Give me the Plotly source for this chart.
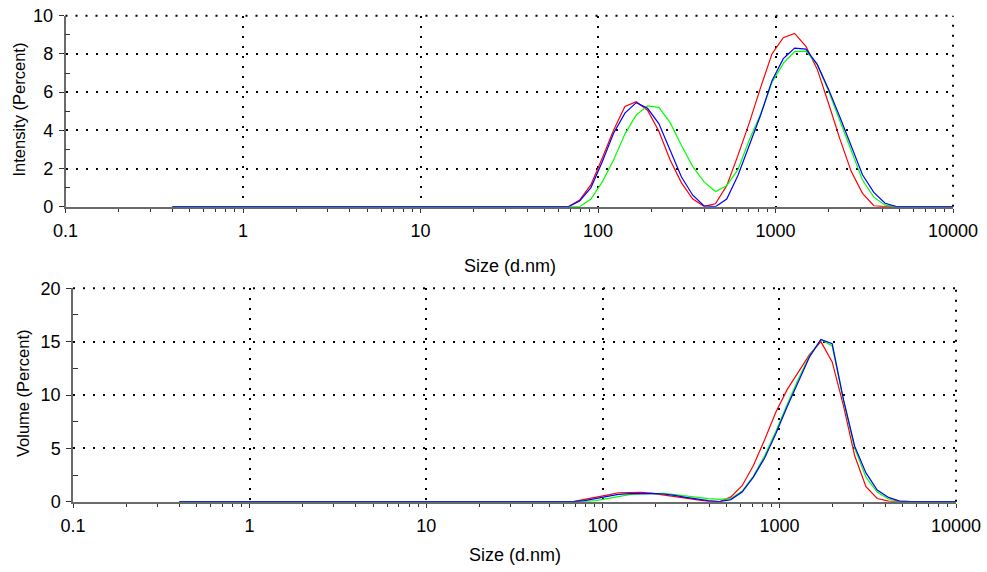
import plotly.graph_objects as go

# Size classes (d.nm) of the DLS size distribution
SIZE_NM = [
    0.4, 0.4632, 0.5365, 0.6213, 0.7195, 0.8332, 0.9649, 1.117, 1.294, 1.499,
    1.736, 2.010, 2.328, 2.696, 3.122, 3.615, 4.187, 4.849, 5.615, 6.503,
    7.531, 8.721, 10.10, 11.70, 13.54, 15.69, 18.17, 21.04, 24.36, 28.21,
    32.67, 37.84, 43.82, 50.75, 58.77, 68.06, 78.82, 91.28, 105.7, 122.4,
    141.8, 164.2, 190.1, 220.2, 255.0, 295.3, 342.0, 396.1, 458.7, 531.2,
    615.1, 712.4, 825.0, 955.4, 1106, 1281, 1484, 1718, 1990, 2305,
    2669, 3091, 3580, 4145, 4801, 5560, 6439, 7456, 8635, 10000,
]

# Intensity distribution (%), one list per measurement
INTENSITY_RED = [
    0, 0, 0, 0, 0, 0, 0, 0, 0, 0,
    0, 0, 0, 0, 0, 0, 0, 0, 0, 0,
    0, 0, 0, 0, 0, 0, 0, 0, 0, 0,
    0, 0, 0, 0, 0, 0.0, 0.35, 1.15, 2.55, 4.0,
    5.25, 5.5, 5.05, 3.95, 2.45, 1.25, 0.4, 0.02, 0.15, 1.1,
    2.7, 4.4, 6.25, 8.0, 8.85, 9.07, 8.4, 7.2, 5.4, 3.55,
    1.85, 0.7, 0.05, 0, 0, 0, 0, 0, 0, 0,
]
INTENSITY_GREEN = [
    0, 0, 0, 0, 0, 0, 0, 0, 0, 0,
    0, 0, 0, 0, 0, 0, 0, 0, 0, 0,
    0, 0, 0, 0, 0, 0, 0, 0, 0, 0,
    0, 0, 0, 0, 0, 0.0, 0.0, 0.4, 1.3, 2.45,
    3.8, 4.8, 5.28, 5.2, 4.4, 3.2, 2.1, 1.3, 0.8, 1.1,
    1.95, 3.5, 4.85, 6.5, 7.5, 8.12, 8.15, 7.45, 6.05, 4.5,
    2.9, 1.4, 0.5, 0.08, 0, 0, 0, 0, 0, 0,
]
INTENSITY_BLUE = [
    0, 0, 0, 0, 0, 0, 0, 0, 0, 0,
    0, 0, 0, 0, 0, 0, 0, 0, 0, 0,
    0, 0, 0, 0, 0, 0, 0, 0, 0, 0,
    0, 0, 0, 0, 0, 0.0, 0.3, 1.0, 2.35, 3.85,
    4.9, 5.45, 5.15, 4.35, 2.95, 1.55, 0.6, 0.04, 0.0, 0.4,
    1.65, 3.25, 4.8, 6.6, 7.75, 8.3, 8.25, 7.45, 6.15, 4.7,
    3.15, 1.67, 0.75, 0.18, 0.01, 0, 0, 0, 0, 0,
]

# Volume distribution (%), one list per measurement
VOLUME_RED = [
    0, 0, 0, 0, 0, 0, 0, 0, 0, 0,
    0, 0, 0, 0, 0, 0, 0, 0, 0, 0,
    0, 0, 0, 0, 0, 0, 0, 0, 0, 0,
    0, 0, 0, 0, 0, 0.0, 0.22, 0.4, 0.62, 0.84,
    0.87, 0.87, 0.78, 0.62, 0.47, 0.31, 0.16, 0.03, 0.0, 0.45,
    1.5, 3.4, 5.8, 8.4, 10.5, 12.2, 13.8, 15.0, 13.1, 9.0,
    4.3, 1.4, 0.3, 0.05, 0, 0, 0, 0, 0, 0,
]
VOLUME_GREEN = [
    0, 0, 0, 0, 0, 0, 0, 0, 0, 0,
    0, 0, 0, 0, 0, 0, 0, 0, 0, 0,
    0, 0, 0, 0, 0, 0, 0, 0, 0, 0,
    0, 0, 0, 0, 0, 0.0, 0.0, 0.1, 0.3, 0.53,
    0.66, 0.72, 0.78, 0.78, 0.66, 0.53, 0.37, 0.28, 0.22, 0.3,
    1.0, 2.4, 4.3, 6.6, 9.1, 11.5, 13.7, 15.2, 14.6, 9.5,
    5.0, 2.3, 0.9, 0.25, 0.02, 0, 0, 0, 0, 0,
]
VOLUME_BLUE = [
    0, 0, 0, 0, 0, 0, 0, 0, 0, 0,
    0, 0, 0, 0, 0, 0, 0, 0, 0, 0,
    0, 0, 0, 0, 0, 0, 0, 0, 0, 0,
    0, 0, 0, 0, 0, 0.0, 0.1, 0.3, 0.53, 0.69,
    0.75, 0.78, 0.78, 0.72, 0.6, 0.4, 0.22, 0.1, 0.0, 0.2,
    0.9, 2.3, 4.1, 6.4, 8.9, 11.3, 13.6, 15.2, 14.8, 9.6,
    5.2, 2.7, 1.1, 0.4, 0.05, 0, 0, 0, 0, 0,
]

X_TICKS = [0.1, 1, 10, 100, 1000, 10000]
X_TICK_TEXT = ["0.1", "1", "10", "100", "1000", "10000"]
X_MINOR = [m * d for d in (0.1, 1, 10, 100, 1000) for m in range(2, 10)]

FONT = "Liberation Sans, Arial, sans-serif"
AXIS_GRAY = "#6a6a6a"
TICK_COL = "#333333"
DOTS = "2px,8px"

fig = go.Figure()

series = [
    ("x", "y", INTENSITY_RED, "#ff0000"),
    ("x", "y", INTENSITY_GREEN, "#00ff00"),
    ("x", "y", INTENSITY_BLUE, "#0000ff"),
    ("x2", "y2", VOLUME_RED, "#ff0000"),
    ("x2", "y2", VOLUME_GREEN, "#00ff00"),
    ("x2", "y2", VOLUME_BLUE, "#0000ff"),
]
for xa, ya, vals, col in series:
    fig.add_trace(go.Scatter(
        x=SIZE_NM, y=vals, mode="lines", xaxis=xa, yaxis=ya,
        line=dict(color=col, width=1.2), showlegend=False, hoverinfo="skip",
        cliponaxis=False,
    ))


def size_axis(domain, anchor):
    return dict(
        type="log", range=[-1, 4], domain=domain, anchor=anchor,
        automargin=False, layer="below traces",
        tickmode="array", tickvals=X_TICKS, ticktext=X_TICK_TEXT,
        ticks="outside", ticklen=4, tickwidth=1, tickcolor=TICK_COL,
        ticklabelstandoff=3,
        showline=True, linecolor=AXIS_GRAY, linewidth=2,
        showgrid=True, gridcolor="black", gridwidth=2, griddash=DOTS,
        zeroline=False,
        minor=dict(tickmode="array", tickvals=X_MINOR, ticks="outside",
                   ticklen=3, tickwidth=1, tickcolor=TICK_COL, showgrid=False),
        tickfont=dict(family=FONT, size=18, color="black"),
    )


def inner_ticks(over, anchor):
    # second set of tick marks so the x ticks cross the axis line
    return dict(
        type="log", range=[-1, 4], overlaying=over, anchor=anchor,
        automargin=False, layer="below traces",
        tickmode="array", tickvals=X_TICKS, ticks="inside", ticklen=5,
        tickwidth=1, tickcolor=TICK_COL, showticklabels=False,
        showgrid=False, showline=False, zeroline=False,
        minor=dict(tickmode="array", tickvals=X_MINOR, ticks="inside",
                   ticklen=3, tickwidth=1, tickcolor=TICK_COL, showgrid=False),
    )


def value_axis(domain, anchor, rng, dtick, minor_vals):
    return dict(
        range=rng, domain=domain, anchor=anchor,
        automargin=False, layer="below traces",
        tickmode="linear", tick0=0, dtick=dtick,
        ticks="outside", ticklen=5, tickwidth=1, tickcolor=TICK_COL,
        ticklabelstandoff=2,
        showline=True, linecolor=AXIS_GRAY, linewidth=1.5,
        showgrid=True, gridcolor="black", gridwidth=2, griddash=DOTS,
        zeroline=False,
        minor=dict(tickmode="array", tickvals=minor_vals, ticks="inside",
                   ticklen=5, tickwidth=1, tickcolor=TICK_COL, showgrid=False),
        tickfont=dict(family=FONT, size=18, color="black"),
    )


W, H = 987, 572
top_x = [65.5 / W, 953 / W]
bot_x = [73 / W, 956 / W]
top_y = [(H - 206.7) / H, (H - 15.7) / H]
bot_y = [(H - 501.7) / H, (H - 288.3) / H]

fig.update_layout(
    width=W, height=H,
    margin=dict(l=0, r=0, t=0, b=0, autoexpand=False),
    paper_bgcolor="white", plot_bgcolor="white",
    font=dict(family=FONT, size=18, color="black"),
    xaxis=size_axis(top_x, "y"),
    yaxis=value_axis(top_y, "x", [0, 10], 2, [1, 3, 5, 7, 9]),
    xaxis2=size_axis(bot_x, "y2"),
    yaxis2=value_axis(bot_y, "x2", [0, 20], 5, [2.5, 7.5, 12.5, 17.5]),
    xaxis3=inner_ticks("x", "y"),
    xaxis4=inner_ticks("x2", "y2"),
)

# dotted grid lines along the top and right edges of each panel
for xr, yr in (("x", "y"), ("x2", "y2")):
    fig.add_shape(type="line", xref=f"{xr} domain", yref=f"{yr} domain",
                  x0=0, x1=1, y0=1, y1=1, layer="below",
                  line=dict(color="black", width=2, dash=DOTS))
    fig.add_shape(type="line", xref=f"{xr} domain", yref=f"{yr} domain",
                  x0=1, x1=1, y0=0, y1=1, layer="below",
                  line=dict(color="black", width=2, dash=DOTS))

titles = [
    ("Size (d.nm)", 510 / W, (H - 266) / H, 0, 18),
    ("Size (d.nm)", 515 / W, (H - 555) / H, 0, 18),
    ("Intensity (Percent)", 18.5 / W, (H - 110) / H, -90, 16.5),
    ("Volume (Percent)", 23 / W, (H - 394) / H, -90, 16.5),
]
for text, x, y, ang, size in titles:
    fig.add_annotation(
        text=text, x=x, y=y, xref="paper", yref="paper",
        xanchor="center", yanchor="middle", textangle=ang, showarrow=False,
        font=dict(family=FONT, size=size, color="black"),
    )

fig.write_html("out.html")
